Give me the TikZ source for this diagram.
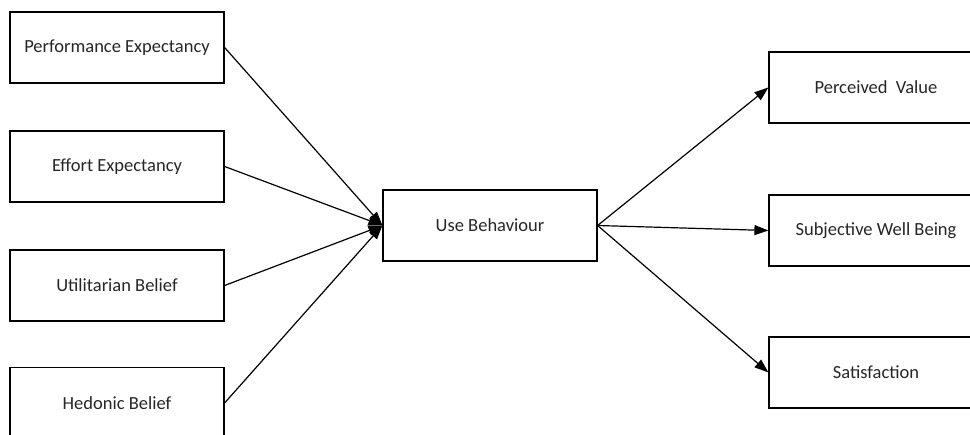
\documentclass[tikz,border=0pt]{standalone}
\usepackage{fontspec}
\setmainfont{Carlito}
\usetikzlibrary{arrows.meta}
\begin{document}
\begin{tikzpicture}[x=1pt,y=-1pt,
  box/.style={draw=black, line width=1.2pt, rectangle, minimum width=214pt, minimum height=71pt, inner sep=0pt, font=\fontsize{18.5}{21}\selectfont, text=black!85},
  conn/.style={draw=black, line width=1.2pt, -{Triangle[length=14pt,width=10pt]}}]
\useasboundingbox (0,0) rectangle (970,435);
\clip (0,0) rectangle (970,435);
\node[box] (pe) at (117,47.5) {Performance Expectancy};
\node[box] (ee) at (117,166.5) {Effort Expectancy};
\node[box] (ub) at (117,285.5) {Utilitarian Belief};
\node[box] (hb) at (117,403) {Hedonic Belief};
\node[box] (use) at (490,225.5) {Use Behaviour};
\node[box] (pv) at (876,87.5) {Perceived\hspace{0.45em}Value};
\node[box] (swb) at (876,230.5) {Subjective Well Being};
\node[box] (sat) at (876,372.5) {Satisfaction};
\draw[conn] (pe.east) -- (use.west);
\draw[conn] (ee.east) -- (use.west);
\draw[conn] (ub.east) -- (use.west);
\draw[conn] (hb.east) -- (use.west);
\draw[conn] (use.east) -- (pv.west);
\draw[conn] (use.east) -- (swb.west);
\draw[conn] (use.east) -- (sat.west);
\end{tikzpicture}
\end{document}
